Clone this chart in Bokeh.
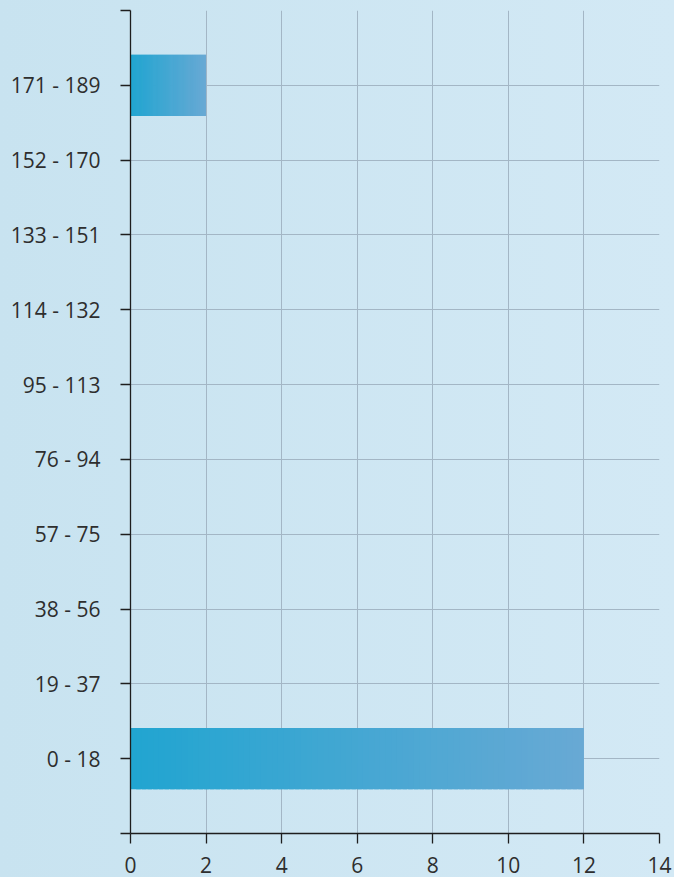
from bokeh.plotting import figure
from bokeh.models import FixedTicker, Range1d
from bokeh.embed import file_html
from bokeh.resources import INLINE

# ---- data ----
categories = ["0 - 18", "19 - 37", "38 - 56", "57 - 75", "76 - 94",
              "95 - 113", "114 - 132", "133 - 151", "152 - 170", "171 - 189"]
counts = [12, 0, 0, 0, 0, 0, 0, 0, 0, 2]
x_ticks = [0, 2, 4, 6, 8, 10, 12, 14]

# ---- style ----
FONT = "Open Sans"
TEXT = "#2e2e2e"
GRID = "#a3b6c5"
BAR_LEFT = (0x21, 0xa5, 0xd1)
BAR_RIGHT = (0x68, 0xa9, 0xd4)
N_SLICES = 80
BAR_H = 0.82

n = len(categories)
p = figure(width=674, height=877, output_backend="svg", toolbar_location=None,
           x_range=Range1d(0, 14), y_range=Range1d(-1, n),
           min_border_left=130, min_border_right=15,
           min_border_top=10, min_border_bottom=44)
p.background_fill_alpha = 0
p.border_fill_alpha = 0
p.outline_line_color = None

# gradient bars: horizontal slices derived from each value
ys, lefts, rights, colors = [], [], [], []
for i, v in enumerate(counts):
    if v <= 0:
        continue
    step = v / N_SLICES
    for k in range(N_SLICES):
        t = k / (N_SLICES - 1)
        c = tuple(round(a + (b - a) * t) for a, b in zip(BAR_LEFT, BAR_RIGHT))
        ys.append(i)
        lefts.append(k * step)
        rights.append(min(v, (k + 1) * step + step * 0.8))
        colors.append("#%02x%02x%02x" % c)
p.hbar(y=ys, left=lefts, right=rights, height=BAR_H, fill_color=colors,
       line_color=None)

# axes
p.xaxis.ticker = FixedTicker(ticks=x_ticks)
p.yaxis.ticker = FixedTicker(ticks=list(range(-1, n + 1)))
overrides = {i: c for i, c in enumerate(categories)}
overrides[-1] = ""
overrides[n] = ""
p.yaxis.major_label_overrides = overrides

for ax in (p.xaxis, p.yaxis):
    ax.axis_line_color = "#1e1e1e"
    ax.axis_line_width = 1.3
    ax.major_tick_line_color = "#1e1e1e"
    ax.major_tick_line_width = 1.3
    ax.major_tick_in = 0
    ax.major_tick_out = 10
    ax.minor_tick_line_color = None
    ax.major_label_text_font = FONT
    ax.major_label_text_font_size = "21px"
    ax.major_label_text_color = TEXT
p.yaxis.major_label_standoff = 20
p.xaxis.major_label_standoff = 13

p.xgrid.ticker = FixedTicker(ticks=x_ticks)
p.ygrid.ticker = FixedTicker(ticks=list(range(-1, n + 1)))
p.grid.grid_line_color = GRID
p.grid.grid_line_width = 1

html = file_html(p, INLINE)
style = ("<style>html,body{overflow:hidden;}"
         "html{background:linear-gradient(to right,#c8e3f0,#d3e9f5);min-height:100%;}"
         "body{background:transparent;}</style>")
html = html.replace("</head>", style + "</head>", 1)
open("out.html", "w").write(html)
